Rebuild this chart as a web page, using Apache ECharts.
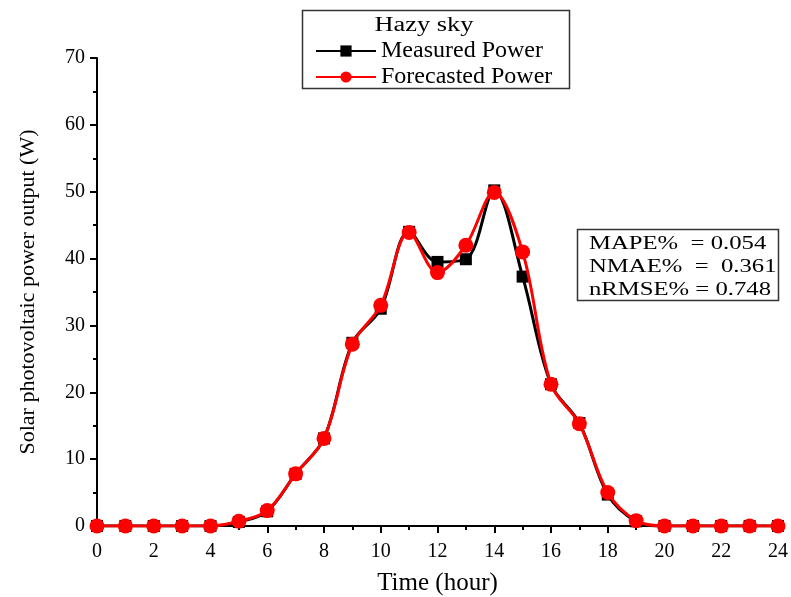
<!DOCTYPE html>
<html><head><meta charset="utf-8">
<script src="https://cdn.jsdelivr.net/npm/echarts@6/dist/echarts.min.js"></script>
<style>html,body{margin:0;padding:0;background:#fff}#c{width:791px;height:597px}</style>
</head><body><div id="c"></div>
<script>
const hours = [0,1,2,3,4,5,6,7,8,9,10,11,12,13,14,15,16,17,18,19,20,21,22,23,24];
const measured = [0,0,0,0,0,0.6,2.2,7.8,13.1,27.4,32.5,44.0,39.5,39.9,50.2,37.3,21.2,15.4,4.7,0.7,0,0,0,0,0];
const forecasted = [0,0,0,0,0,0.7,2.3,7.8,13.1,27.2,33.0,43.9,37.9,42.0,49.9,41.0,21.2,15.3,5.0,0.8,0,0,0,0,0];
const legendTitle = 'Hazy sky';
const statsLines = ['MAPE%  = 0.054', 'NMAE%  =  0.361', 'nRMSE% = 0.748'];

const font = "'Liberation Serif','Times New Roman',serif";
const chart = echarts.init(document.getElementById('c'));
const pair = arr => hours.map((h,i)=>[h, arr[i]]);
const sx = 1.3;
chart.setOption({
  animation:false,
  backgroundColor:'#fff',
  grid:{left:97,right:13,top:58,bottom:71,containLabel:false,outerBoundsMode:'none'},
  legend:{
    orient:'vertical', left:310, top:34, itemGap:2, itemWidth:60, itemHeight:14,
    textStyle:{fontFamily:font,fontSize:24,color:'#000'},
    data:['Measured Power','Forecasted Power']
  },
  xAxis:{
    type:'value', min:0, max:24, interval:2,
    name:'Time (hour)', nameLocation:'middle', nameGap:45,
    nameTextStyle:{fontFamily:font,fontSize:25,color:'#000'},
    axisLine:{show:true,lineStyle:{color:'#000',width:2}},
    axisTick:{show:true,inside:false,length:7,lineStyle:{color:'#000',width:2}},
    minorTick:{show:true,splitNumber:2,length:4,lineStyle:{color:'#000',width:2}},
    axisLabel:{fontFamily:font,fontSize:20,color:'#000',margin:16},
    splitLine:{show:false}
  },
  yAxis:{
    type:'value', min:0, max:70, interval:10,
    name:'Solar photovoltaic power output (W)', nameLocation:'middle', nameGap:58,
    nameTextStyle:{fontFamily:font,fontSize:22,color:'#000'},
    axisLine:{show:true,lineStyle:{color:'#000',width:2}},
    axisTick:{show:true,inside:false,length:7,lineStyle:{color:'#000',width:2}},
    minorTick:{show:true,splitNumber:2,length:4,lineStyle:{color:'#000',width:2}},
    axisLabel:{fontFamily:font,fontSize:20,color:'#000',margin:12},
    splitLine:{show:false}
  },
  series:[
    {name:'Measured Power', type:'line', smooth:0.35, data:pair(measured),
     symbol:'rect', symbolSize:12, showAllSymbol:true,
     lineStyle:{color:'#000',width:3}, itemStyle:{color:'#000'}, z:2},
    {name:'Forecasted Power', type:'line', smooth:0.35, data:pair(forecasted),
     symbol:'circle', symbolSize:15, showAllSymbol:true,
     lineStyle:{color:'#ff0000',width:3}, itemStyle:{color:'#ff0000'}, z:3}
  ],
  graphic:[
    {type:'rect', shape:{x:302.5,y:10.5,width:267,height:78}, style:{fill:'none',stroke:'#333',lineWidth:1.5}, z:10},
    {type:'text', x:424, y:26, scaleX:1.32, style:{text:legendTitle, font:"20px "+font, fill:'#000', textAlign:'center', textVerticalAlign:'middle'}, z:10},
    {type:'rect', shape:{x:577.5,y:229.5,width:201,height:71}, style:{fill:'#fff',stroke:'#333',lineWidth:1.5}, z:10},
    {type:'text', x:589, y:244, scaleX:sx, style:{text:statsLines[0], font:"19px "+font, fill:'#000', textVerticalAlign:'middle'}, z:11},
    {type:'text', x:589, y:267, scaleX:sx, style:{text:statsLines[1], font:"19px "+font, fill:'#000', textVerticalAlign:'middle'}, z:11},
    {type:'text', x:589, y:290, scaleX:sx, style:{text:statsLines[2], font:"19px "+font, fill:'#000', textVerticalAlign:'middle'}, z:11}
  ]
});
</script></body></html>
